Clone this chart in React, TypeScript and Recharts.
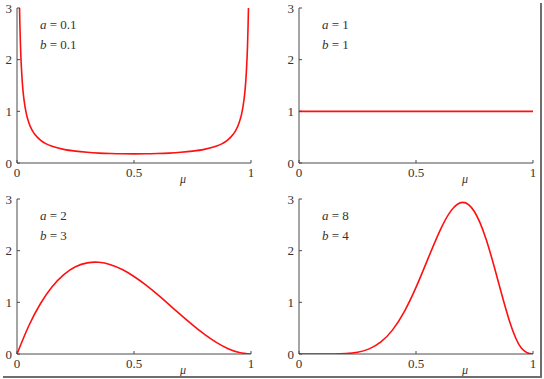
import React from "react";
import { LineChart, Line, XAxis, YAxis } from "recharts";

// ---- data ----
const xTicks = [0, 0.5, 1];
const yTicks = [0, 1, 2, 3];

const muA = [0.008, 0.01, 0.0125, 0.015, 0.02, 0.025, 0.03, 0.04, 0.05, 0.065, 0.075, 0.1, 0.125, 0.15, 0.2, 0.25, 0.3, 0.35, 0.4, 0.45, 0.5, 0.55, 0.6, 0.65, 0.7, 0.75, 0.8, 0.85, 0.875, 0.9, 0.925, 0.935, 0.95, 0.96, 0.97, 0.975, 0.98, 0.985, 0.9875, 0.99, 0.992];
const pdfA = [3.9, 3.2, 2.65, 2.25, 1.75, 1.43, 1.22, 0.95, 0.79, 0.63, 0.56, 0.443, 0.37, 0.324, 0.264, 0.229, 0.207, 0.192, 0.183, 0.178, 0.177, 0.178, 0.183, 0.192, 0.207, 0.229, 0.264, 0.324, 0.37, 0.443, 0.56, 0.63, 0.79, 0.95, 1.22, 1.43, 1.75, 2.25, 2.65, 3.2, 3.9];

const muB = [0, 1];
const pdfB = [1, 1];

const muC = [0, 0.05, 0.1, 0.15, 0.2, 0.25, 0.3, 0.35, 0.4, 0.45, 0.5, 0.55, 0.6, 0.65, 0.7, 0.75, 0.8, 0.85, 0.9, 0.95, 1];
const pdfC = [0, 0.542, 0.972, 1.3, 1.536, 1.688, 1.764, 1.775, 1.728, 1.634, 1.5, 1.337, 1.152, 0.956, 0.756, 0.563, 0.384, 0.23, 0.108, 0.029, 0];

const muD = [0, 0.1, 0.15, 0.2, 0.25, 0.3, 0.35, 0.4, 0.45, 0.5, 0.55, 0.6, 0.65, 0.7, 0.75, 0.8, 0.85, 0.9, 0.95, 1];
const pdfD = [0, 0.0001, 0.001, 0.009, 0.034, 0.099, 0.233, 0.467, 0.821, 1.289, 1.831, 2.365, 2.775, 2.935, 2.753, 2.215, 1.428, 0.631, 0.115, 0];

const panels = [
  { a: "0.1", b: "0.1", mu: muA, pdf: pdfA, left: 0, top: 0, curve: "monotone" },
  { a: "1", b: "1", mu: muB, pdf: pdfB, left: 282, top: 0, curve: "linear" },
  { a: "2", b: "3", mu: muC, pdf: pdfC, left: 0, top: 191, curve: "natural" },
  { a: "8", b: "4", mu: muD, pdf: pdfD, left: 282, top: 191, curve: "natural" },
];

const FONT = "Times New Roman, Liberation Serif, Tinos, Nimbus Roman, DejaVu Serif, serif";
const AXIS = "#4a4a4a";
const TEXT = "#333";
const TICK = 3;

const BottomTick = (props: any) => {
  const { x, y, payload } = props;
  return (
    <g>
      <line x1={x} y1={y} x2={x} y2={y - TICK} stroke={AXIS} strokeWidth={1} />
      <text x={x} y={y + 14} textAnchor="middle" style={{ fontFamily: FONT }} fontSize={13} fill={TEXT}>
        {String(payload.value)}
      </text>
    </g>
  );
};

const TopTick = (props: any) => {
  const { x, y } = props;
  return <line x1={x} y1={y} x2={x} y2={y + TICK} stroke={AXIS} strokeWidth={1} />;
};

const LeftTick = (props: any) => {
  const { x, y, payload } = props;
  return (
    <g>
      <line x1={x} y1={y} x2={x + TICK} y2={y} stroke={AXIS} strokeWidth={1} />
      <text x={x - 5} y={y + 4.5} textAnchor="end" style={{ fontFamily: FONT }} fontSize={13} fill={TEXT}>
        {String(payload.value)}
      </text>
    </g>
  );
};

const RightTick = (props: any) => {
  const { x, y } = props;
  return <line x1={x} y1={y} x2={x - TICK} y2={y} stroke={AXIS} strokeWidth={1} />;
};

const PLOT_LEFT = 17;
const PLOT_TOP = 8;
const PLOT_BOTTOM = 163;

function Panel({ p }: { p: any }) {
  const data = p.mu.map((m: number, i: number) => ({ mu: m, pdf: p.pdf[i] }));
  const ann: React.CSSProperties = {
    position: "absolute",
    left: PLOT_LEFT + 23,
    fontFamily: FONT,
    fontSize: 13,
    lineHeight: "16px",
    color: TEXT,
    whiteSpace: "nowrap",
  };
  return (
    <div style={{ position: "absolute", left: p.left, top: p.top, width: 272, height: 190, fontFamily: FONT }}>
      <LineChart
        width={272}
        height={190}
        data={data}
        margin={{ top: 8, right: 21, left: 0, bottom: 0 }}
        style={{ fontFamily: FONT }}
      >
        <XAxis
          dataKey="mu"
          type="number"
          domain={[0, 1]}
          ticks={xTicks}
          interval={0}
          height={27}
          tickSize={0}
          tickMargin={0}
          tickLine={false}
          tick={<BottomTick />}
          axisLine={{ stroke: AXIS }}
        />
        <XAxis
          xAxisId="top"
          orientation="top"
          type="number"
          domain={[0, 1]}
          ticks={xTicks}
          interval={0}
          height={0}
          tickSize={0}
          tickMargin={0}
          tickLine={false}
          tick={<TopTick />}
          axisLine={{ stroke: AXIS }}
        />
        <YAxis
          type="number"
          domain={[0, 3]}
          ticks={yTicks}
          interval={0}
          width={17}
          allowDataOverflow
          tickSize={0}
          tickMargin={0}
          tickLine={false}
          tick={<LeftTick />}
          axisLine={{ stroke: AXIS }}
        />
        <YAxis
          yAxisId="right"
          orientation="right"
          type="number"
          domain={[0, 3]}
          ticks={yTicks}
          interval={0}
          width={0}
          tickSize={0}
          tickMargin={0}
          tickLine={false}
          tick={<RightTick />}
          axisLine={{ stroke: AXIS }}
        />
        <Line
          type={p.curve}
          dataKey="pdf"
          stroke="#ff1010"
          strokeWidth={1.6}
          dot={false}
          isAnimationActive={false}
        />
      </LineChart>
      <div style={{ ...ann, top: PLOT_TOP + 9 }}>
        <i>a</i> = {p.a}
      </div>
      <div style={{ ...ann, top: PLOT_TOP + 29 }}>
        <i>b</i> = {p.b}
      </div>
      <div
        style={{
          position: "absolute",
          left: PLOT_LEFT + 163,
          top: PLOT_BOTTOM + 9,
          fontFamily: FONT,
          fontStyle: "italic",
          fontSize: 12,
          lineHeight: "14px",
          color: TEXT,
        }}
      >
        μ
      </div>
    </div>
  );
}

export default function App() {
  return (
    <div
      style={{
        position: "absolute",
        left: 0,
        top: 0,
        width: 544,
        height: 379,
        background: "#ffffff",
        overflow: "hidden",
        fontFamily: FONT,
      }}
    >
      {panels.map((p, i) => (
        <Panel key={i} p={p} />
      ))}
      <div style={{ position: "absolute", left: 540, top: 3, width: 2, height: 375, background: "#6e6e6e" }} />
      <div style={{ position: "absolute", left: 3, top: 376, width: 539, height: 2, background: "#6e6e6e" }} />
    </div>
  );
}
